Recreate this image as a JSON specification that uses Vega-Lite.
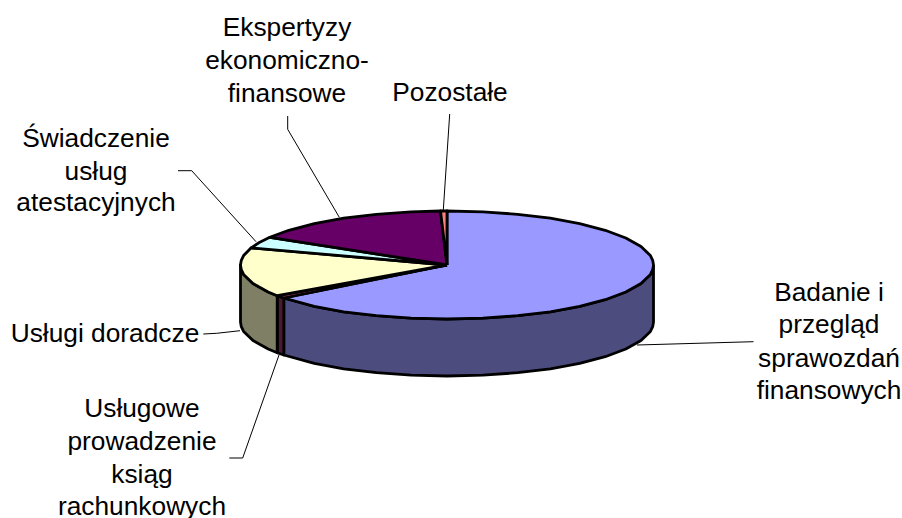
{"$schema":"https://vega.github.io/schema/vega-lite/v6.json","width":902,"height":518,"autosize":{"type":"none"},"padding":0,"background":"white","config":{"view":{"stroke":null}},
"datasets":{
"poly":[
{"p":"Badanie bok","i":1,"x":206.5,"y":0},{"p":"Badanie bok","i":1.5,"x":205.7,"y":-4.7},{"p":"Badanie bok","i":2,"x":203.4,"y":-9.4},{"p":"Badanie bok","i":3,"x":194,"y":-18.5},{"p":"Badanie bok","i":4,"x":178.8,"y":-27},{"p":"Badanie bok","i":5,"x":158.2,"y":-34.7},{"p":"Badanie bok","i":6,"x":132.7,"y":-41.4},{"p":"Badanie bok","i":7,"x":103.3,"y":-46.8},{"p":"Badanie bok","i":8,"x":70.6,"y":-50.7},{"p":"Badanie bok","i":9,"x":35.9,"y":-53.2},{"p":"Badanie bok","i":10,"x":0,"y":-54},{"p":"Badanie bok","i":11,"x":-35.9,"y":-53.2},{"p":"Badanie bok","i":12,"x":-70.6,"y":-50.7},{"p":"Badanie bok","i":13,"x":-103.3,"y":-46.8},{"p":"Badanie bok","i":14,"x":-132.7,"y":-41.4},{"p":"Badanie bok","i":15,"x":-163.2,"y":-33},{"p":"Badanie bok","i":16,"x":-163.2,"y":-90},{"p":"Badanie bok","i":17,"x":-132.7,"y":-98.4},{"p":"Badanie bok","i":18,"x":-103.3,"y":-103.8},{"p":"Badanie bok","i":19,"x":-70.6,"y":-107.7},{"p":"Badanie bok","i":20,"x":-35.9,"y":-110.2},{"p":"Badanie bok","i":21,"x":0,"y":-111},{"p":"Badanie bok","i":22,"x":35.9,"y":-110.2},{"p":"Badanie bok","i":23,"x":70.6,"y":-107.7},{"p":"Badanie bok","i":24,"x":103.3,"y":-103.8},{"p":"Badanie bok","i":25,"x":132.7,"y":-98.4},{"p":"Badanie bok","i":26,"x":158.2,"y":-91.7},{"p":"Badanie bok","i":27,"x":178.8,"y":-84},{"p":"Badanie bok","i":28,"x":194,"y":-75.5},{"p":"Badanie bok","i":29,"x":203.4,"y":-66.4},{"p":"Badanie bok","i":29.5,"x":205.7,"y":-61.7},{"p":"Badanie bok","i":30,"x":206.5,"y":-57},{"p":"Badanie bok","i":31,"x":206.5,"y":0},
{"p":"Usługowe bok","i":1,"x":-163.2,"y":-33},{"p":"Usługowe bok","i":2,"x":-169.8,"y":-30.7},{"p":"Usługowe bok","i":3,"x":-169.8,"y":-87.7},{"p":"Usługowe bok","i":4,"x":-163.2,"y":-90},{"p":"Usługowe bok","i":5,"x":-163.2,"y":-33},
{"p":"Doradcze bok","i":1,"x":-169.8,"y":-30.7},{"p":"Doradcze bok","i":2,"x":-178.8,"y":-27},{"p":"Doradcze bok","i":3,"x":-194,"y":-18.5},{"p":"Doradcze bok","i":4,"x":-203.4,"y":-9.4},{"p":"Doradcze bok","i":4.5,"x":-205.7,"y":-4.7},{"p":"Doradcze bok","i":5,"x":-206.5,"y":0},{"p":"Doradcze bok","i":6,"x":-206.5,"y":-57},{"p":"Doradcze bok","i":6.5,"x":-205.7,"y":-61.7},{"p":"Doradcze bok","i":7,"x":-203.4,"y":-66.4},{"p":"Doradcze bok","i":8,"x":-194,"y":-75.5},{"p":"Doradcze bok","i":9,"x":-178.8,"y":-84},{"p":"Doradcze bok","i":10,"x":-169.8,"y":-87.7},{"p":"Doradcze bok","i":11,"x":-169.8,"y":-30.7},
{"p":"Badanie","i":1,"x":0,"y":0},{"p":"Badanie","i":2,"x":0,"y":54},{"p":"Badanie","i":3,"x":35.9,"y":53.2},{"p":"Badanie","i":4,"x":70.6,"y":50.7},{"p":"Badanie","i":5,"x":103.3,"y":46.8},{"p":"Badanie","i":6,"x":132.7,"y":41.4},{"p":"Badanie","i":7,"x":158.2,"y":34.7},{"p":"Badanie","i":8,"x":178.8,"y":27},{"p":"Badanie","i":9,"x":194,"y":18.5},{"p":"Badanie","i":10,"x":203.4,"y":9.4},{"p":"Badanie","i":10.5,"x":205.7,"y":4.7},{"p":"Badanie","i":11,"x":206.5,"y":0},{"p":"Badanie","i":11.5,"x":205.7,"y":-4.7},{"p":"Badanie","i":12,"x":203.4,"y":-9.4},{"p":"Badanie","i":13,"x":194,"y":-18.5},{"p":"Badanie","i":14,"x":178.8,"y":-27},{"p":"Badanie","i":15,"x":158.2,"y":-34.7},{"p":"Badanie","i":16,"x":132.7,"y":-41.4},{"p":"Badanie","i":17,"x":103.3,"y":-46.8},{"p":"Badanie","i":18,"x":70.6,"y":-50.7},{"p":"Badanie","i":19,"x":35.9,"y":-53.2},{"p":"Badanie","i":20,"x":0,"y":-54},{"p":"Badanie","i":21,"x":-35.9,"y":-53.2},{"p":"Badanie","i":22,"x":-70.6,"y":-50.7},{"p":"Badanie","i":23,"x":-103.3,"y":-46.8},{"p":"Badanie","i":24,"x":-132.7,"y":-41.4},{"p":"Badanie","i":25,"x":-163.2,"y":-33},{"p":"Badanie","i":26,"x":0,"y":0},
{"p":"Usługowe","i":1,"x":0,"y":0},{"p":"Usługowe","i":2,"x":-163.2,"y":-33},{"p":"Usługowe","i":3,"x":-169.8,"y":-30.7},{"p":"Usługowe","i":4,"x":0,"y":0},
{"p":"Doradcze","i":1,"x":0,"y":0},{"p":"Doradcze","i":2,"x":-169.8,"y":-30.7},{"p":"Doradcze","i":3,"x":-178.8,"y":-27},{"p":"Doradcze","i":4,"x":-194,"y":-18.5},{"p":"Doradcze","i":5,"x":-203.4,"y":-9.4},{"p":"Doradcze","i":5.5,"x":-205.7,"y":-4.7},{"p":"Doradcze","i":6,"x":-206.5,"y":0},{"p":"Doradcze","i":6.5,"x":-205.7,"y":4.7},{"p":"Doradcze","i":7,"x":-203.4,"y":9.4},{"p":"Doradcze","i":8,"x":-195.8,"y":17.2},{"p":"Doradcze","i":9,"x":0,"y":0},
{"p":"Atestacyjne","i":1,"x":0,"y":0},{"p":"Atestacyjne","i":2,"x":-195.8,"y":17.2},{"p":"Atestacyjne","i":3,"x":-187.2,"y":22.8},{"p":"Atestacyjne","i":4,"x":-177.2,"y":27.7},{"p":"Atestacyjne","i":5,"x":0,"y":0},
{"p":"Ekspertyzy","i":1,"x":0,"y":0},{"p":"Ekspertyzy","i":2,"x":-177.2,"y":27.7},{"p":"Ekspertyzy","i":3,"x":-158.2,"y":34.7},{"p":"Ekspertyzy","i":4,"x":-132.7,"y":41.4},{"p":"Ekspertyzy","i":5,"x":-103.3,"y":46.8},{"p":"Ekspertyzy","i":6,"x":-70.6,"y":50.7},{"p":"Ekspertyzy","i":7,"x":-35.9,"y":53.2},{"p":"Ekspertyzy","i":8,"x":-6.5,"y":54},{"p":"Ekspertyzy","i":9,"x":0,"y":0},
{"p":"Pozostałe","i":1,"x":0,"y":0},{"p":"Pozostałe","i":2,"x":-6.5,"y":54},{"p":"Pozostałe","i":3,"x":0,"y":54},{"p":"Pozostałe","i":4,"x":0,"y":0}
],
"leaders":[
{"k":"a","i":1,"x":190,"y":-80},{"k":"a","i":2,"x":306.5,"y":-76.7},
{"k":"b","i":1,"x":-243.7,"y":-69},{"k":"b","i":2,"x":-230.3,"y":-68.3},{"k":"b","i":3,"x":-207,"y":-65.7},
{"k":"c","i":1,"x":-217.7,"y":-193},{"k":"c","i":2,"x":-204.3,"y":-193},{"k":"c","i":3,"x":-168,"y":-90},
{"k":"d","i":1,"x":2.7,"y":151},{"k":"d","i":2,"x":-3.7,"y":55},
{"k":"e","i":1,"x":-159.3,"y":149},{"k":"e","i":2,"x":-159.3,"y":135.7},{"k":"e","i":3,"x":-107.7,"y":47.7},
{"k":"f","i":1,"x":-269,"y":94.3},{"k":"f","i":2,"x":-255.3,"y":94.3},{"k":"f","i":3,"x":-191,"y":23.3}
],
"labels":[
{"t":"Ekspertyzy","x":-160,"y":229},{"t":"ekonomiczno-","x":-160,"y":196},{"t":"finansowe","x":-160,"y":163},
{"t":"Pozostałe","x":3,"y":164},
{"t":"Świadczenie","x":-351,"y":118.5},{"t":"usług","x":-351,"y":85},{"t":"atestacyjnych","x":-351,"y":54},
{"t":"Usługi doradcze","x":-342,"y":-77},
{"t":"Usługowe","x":-305,"y":-152},{"t":"prowadzenie","x":-305,"y":-185},{"t":"ksiąg","x":-305,"y":-218},{"t":"rachunkowych","x":-305,"y":-250},
{"t":"Badanie i","x":382,"y":-36},{"t":"przegląd","x":382,"y":-68},{"t":"sprawozdań","x":382,"y":-102},{"t":"finansowych","x":382,"y":-134}
]},
"layer":[
{"data":{"name":"poly"},"mark":{"type":"line","stroke":"#000","strokeWidth":2.8,"strokeJoin":"round","clip":false},
"encoding":{"x":{"field":"x","type":"quantitative","scale":{"domain":[-447,455],"nice":false,"zero":false},"axis":null},"y":{"field":"y","type":"quantitative","scale":{"domain":[-253,265],"nice":false,"zero":false},"axis":null},"detail":{"field":"p"},"order":{"field":"i","type":"quantitative"},
"fill":{"field":"p","type":"nominal","legend":null,"scale":{"domain":["Badanie bok","Usługowe bok","Doradcze bok","Badanie","Usługowe","Doradcze","Atestacyjne","Ekspertyzy","Pozostałe"],"range":["#4C4C7F","#4C1933","#7F7F66","#9999FF","#993366","#FFFFCC","#CCFFFF","#660066","#FF8080"]}},"stroke":{"value":"#000"}}},
{"data":{"name":"leaders"},"mark":{"type":"line","stroke":"#000","strokeWidth":1},
"encoding":{"x":{"field":"x","type":"quantitative","scale":{"domain":[-447,455],"nice":false,"zero":false},"axis":null},"y":{"field":"y","type":"quantitative","scale":{"domain":[-253,265],"nice":false,"zero":false},"axis":null},"detail":{"field":"k"},"order":{"field":"i","type":"quantitative"}}},
{"data":{"name":"labels"},"mark":{"type":"text","font":"Liberation Sans","fontSize":26.3,"color":"#000","align":"center","baseline":"alphabetic"},
"encoding":{"x":{"field":"x","type":"quantitative","scale":{"domain":[-447,455],"nice":false,"zero":false},"axis":null},"y":{"field":"y","type":"quantitative","scale":{"domain":[-253,265],"nice":false,"zero":false},"axis":null},"text":{"field":"t"}}}
]}
